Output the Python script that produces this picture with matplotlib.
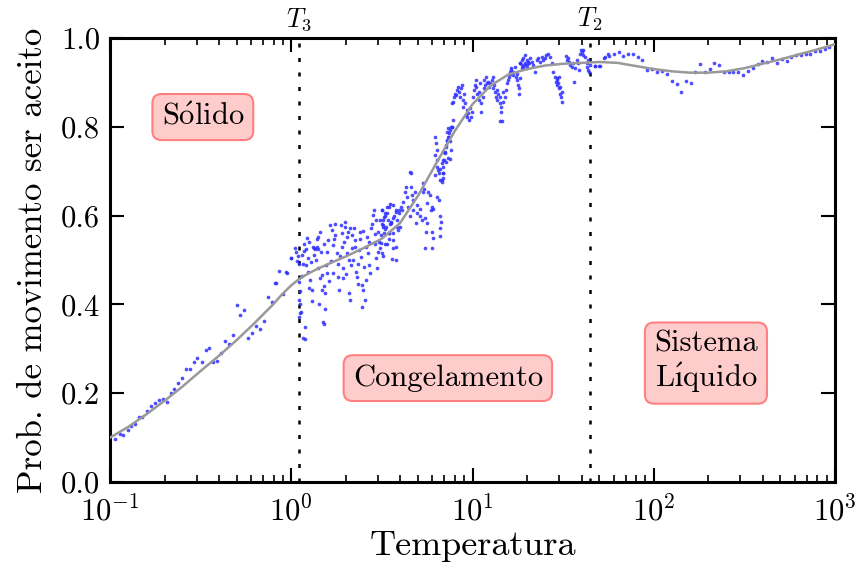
import numpy as np
import matplotlib
matplotlib.use('Agg')
import matplotlib.pyplot as plt

# fonts (Computer Modern look)
plt.rcParams['font.family'] = 'serif'
plt.rcParams['font.serif'] = ['cmr10']
plt.rcParams['mathtext.fontset'] = 'cm'
plt.rcParams['axes.formatter.use_mathtext'] = True

# fitted curve (grey line)
curve_temp = [0.1, 0.126, 0.158, 0.2, 0.251, 0.316, 0.398, 0.501, 0.631, 0.794,
              0.891, 1.0, 1.12, 1.26, 1.41, 1.58, 2.0, 2.51, 3.16, 3.98, 5.01, 6.31, 7.94,
              10, 12.6, 15.8, 20, 25.1, 31.6, 39.8, 50.1, 63.1, 79.4,
              100, 126, 158, 200, 251, 316, 398, 501, 631, 794, 1000]
curve_prob = [0.100, 0.124, 0.152, 0.183, 0.215, 0.250, 0.284, 0.320, 0.359, 0.400,
              0.423, 0.443, 0.459, 0.471, 0.481, 0.490, 0.508, 0.527, 0.548, 0.583, 0.645, 0.718, 0.789,
              0.851, 0.893, 0.918, 0.930, 0.938, 0.942, 0.944, 0.946, 0.944, 0.937,
              0.930, 0.925, 0.922, 0.922, 0.925, 0.932, 0.942, 0.952, 0.963, 0.974, 0.986]

# simulation points (blue dots)
# solid region, T < 1
temp_solid = [0.107, 0.114, 0.118, 0.125, 0.131, 0.137, 0.145, 0.151, 0.159, 0.168,
              0.177, 0.186, 0.195, 0.206, 0.216, 0.226, 0.238, 0.249, 0.262, 0.276,
              0.290, 0.303, 0.321, 0.337, 0.353, 0.372, 0.389, 0.410, 0.430, 0.452,
              0.475, 0.500, 0.524, 0.549, 0.580, 0.610, 0.638, 0.672, 0.705, 0.741,
              0.780, 0.820, 0.860, 0.904, 0.950, 0.81, 1.0]
prob_solid = [0.096, 0.107, 0.106, 0.116, 0.126, 0.130, 0.146, 0.147, 0.161, 0.172,
              0.179, 0.184, 0.188, 0.181, 0.200, 0.209, 0.223, 0.234, 0.254, 0.254,
              0.270, 0.280, 0.270, 0.297, 0.301, 0.270, 0.272, 0.290, 0.318, 0.310,
              0.330, 0.398, 0.377, 0.387, 0.325, 0.335, 0.352, 0.345, 0.363, 0.416,
              0.406, 0.448, 0.475, 0.424, 0.471, 0.449, 0.504]

# freezing region, 1 < T < 4
temp_freeze = [0.94, 1.00, 1.05, 1.09, 1.10, 1.11, 1.12, 1.10, 1.12, 1.13,
               1.10, 1.19, 1.19, 1.16, 1.15, 1.18, 1.22, 1.21, 1.20, 1.24,
               1.25, 1.30, 1.30, 1.27, 1.29, 1.32, 1.34, 1.36, 1.38, 1.41,
               1.41, 1.44, 1.37, 1.41, 1.44, 1.47, 1.48, 1.51, 1.53, 1.49,
               1.51, 1.53, 1.43, 1.56, 1.57, 1.60, 1.63, 1.67, 1.70, 1.74,
               1.75, 1.78, 1.80, 1.82, 1.84, 1.87, 1.90, 1.90, 1.92, 1.94,
               1.98, 1.98, 2.03, 2.03, 2.07, 2.09, 2.11, 2.11, 2.15, 2.17,
               2.19, 2.22, 2.24, 2.27, 2.30, 2.32, 2.36, 2.38, 2.42, 2.45,
               2.45, 2.50, 2.52, 2.55, 2.57, 2.60, 2.62, 2.66, 2.70, 2.75,
               2.78, 2.82, 2.85, 2.90, 2.92, 2.96, 3.00, 3.02, 3.06, 3.10,
               3.14, 3.16, 3.21, 3.25, 3.29, 3.30, 3.36, 3.40, 3.44, 3.50,
               3.55, 3.58, 3.62, 3.70, 3.78, 3.85, 3.95, 4.05, 3.50, 3.18,
               2.95, 1.16, 1.12,
               1.06, 1.08, 1.14, 1.17, 1.23, 1.26, 1.33, 1.39, 1.46, 1.52,
               1.58, 1.65, 1.72, 1.86, 1.96, 2.05, 2.13, 2.26, 2.40, 2.48,
               2.68, 2.88, 3.08, 3.27, 3.48, 1.62, 1.69, 2.00, 2.34, 2.72]
prob_freeze = [0.474, 0.504, 0.526, 0.510, 0.490, 0.450, 0.430, 0.410, 0.400, 0.383,
               0.372, 0.350, 0.321, 0.490, 0.463, 0.520, 0.550, 0.524, 0.489, 0.474,
               0.436, 0.432, 0.408, 0.455, 0.496, 0.530, 0.526, 0.524, 0.530, 0.524,
               0.552, 0.564, 0.500, 0.481, 0.459, 0.466, 0.432, 0.441, 0.425, 0.361,
               0.356, 0.389, 0.402, 0.489, 0.519, 0.545, 0.579, 0.567, 0.534, 0.582,
               0.556, 0.515, 0.492, 0.462, 0.432, 0.579, 0.560, 0.530, 0.481, 0.459,
               0.586, 0.575, 0.552, 0.515, 0.500, 0.425, 0.410, 0.571, 0.556, 0.526,
               0.500, 0.571, 0.545, 0.474, 0.462, 0.447, 0.522, 0.564, 0.507, 0.444,
               0.395, 0.432, 0.485, 0.410, 0.455, 0.530, 0.552, 0.515, 0.489, 0.571,
               0.582, 0.601, 0.612, 0.537, 0.504, 0.481, 0.519, 0.564, 0.541, 0.590,
               0.556, 0.612, 0.579, 0.597, 0.605, 0.537, 0.620, 0.590, 0.560, 0.627,
               0.586, 0.502, 0.526, 0.600, 0.612, 0.575, 0.605, 0.620, 0.582, 0.580,
               0.590, 0.324, 0.380,
               0.517, 0.498, 0.512, 0.537, 0.505, 0.541, 0.512, 0.547, 0.519, 0.536,
               0.470, 0.498, 0.548, 0.510, 0.540, 0.564, 0.488, 0.530, 0.548, 0.566,
               0.540, 0.558, 0.528, 0.570, 0.548, 0.452, 0.470, 0.468, 0.492, 0.470]

# steep rise, 3 < T < 10
temp_rise = [3.15, 3.22, 3.31, 3.36, 3.45, 3.54, 3.63, 3.66, 3.76, 3.81,
             3.88, 3.93, 3.98, 3.20, 3.25, 3.34, 3.45, 3.63, 3.66, 3.76,
             3.12, 3.15, 3.22, 3.76, 3.36,
             4.07, 4.16, 4.24, 4.30, 4.33, 4.42, 4.52, 4.56, 4.62, 4.72,
             4.72, 4.82, 4.93, 4.97, 5.10, 5.13, 5.25, 5.31, 5.36, 5.41,
             5.58, 5.70, 5.83, 5.88, 5.96, 6.08, 4.56, 4.52, 4.88, 5.47,
             5.54, 5.58, 5.96, 6.03, 5.47, 5.96, 6.35, 6.57, 6.62, 6.68,
             6.62, 6.62,
             6.21, 6.29, 6.35, 6.21, 6.35, 6.40, 6.48, 6.57, 6.62, 6.76,
             6.90, 6.90, 7.05, 7.13, 7.21, 7.36, 7.46, 7.52, 7.58, 7.68,
             7.52, 7.36, 7.13, 6.90, 6.76, 6.84, 6.62, 6.21]
prob_rise = [0.613, 0.590, 0.598, 0.605, 0.620, 0.583, 0.594, 0.624, 0.609, 0.590,
             0.568, 0.613, 0.575, 0.575, 0.560, 0.575, 0.560, 0.560, 0.545, 0.530,
             0.538, 0.515, 0.508, 0.500, 0.537,
             0.613, 0.631, 0.654, 0.665, 0.643, 0.620, 0.598, 0.665, 0.646, 0.635,
             0.613, 0.654, 0.624, 0.605, 0.616, 0.598, 0.590, 0.654, 0.673, 0.661,
             0.628, 0.654, 0.646, 0.613, 0.620, 0.616, 0.695, 0.699, 0.583, 0.594,
             0.564, 0.583, 0.564, 0.549, 0.526, 0.526, 0.643, 0.635, 0.598, 0.586,
             0.571, 0.553,
             0.778, 0.763, 0.748, 0.737, 0.725, 0.710, 0.703, 0.695, 0.706, 0.718,
             0.725, 0.744, 0.740, 0.759, 0.767, 0.778, 0.785, 0.793, 0.799, 0.800,
             0.727, 0.729, 0.721, 0.684, 0.676, 0.695, 0.680, 0.691]

# approach to plateau, 7 < T < 20
temp_upper = [6.76, 6.84, 6.90, 6.96, 7.05, 7.14, 7.20, 7.26, 7.36, 7.45,
              7.51, 7.58, 7.68, 7.78, 7.68, 7.83, 7.90, 8.00, 8.11, 8.18,
              8.35, 8.46, 8.53, 8.60, 8.71, 8.83, 8.90, 8.98, 9.09, 9.21,
              9.29, 9.37, 9.48, 9.61, 9.69, 9.77, 9.89, 10.1, 10.2, 10.3,
              10.45, 10.5, 10.6, 10.8, 10.9, 11.0, 11.1, 11.2, 11.4, 11.5,
              11.6, 11.7, 11.9, 12.0, 12.2, 12.4, 12.5, 12.8, 12.9, 13.0,
              13.1, 13.3, 13.5, 13.6, 13.7, 13.9, 14.1, 14.2, 14.3, 14.4,
              14.5, 14.2, 14.7, 14.8, 15.1, 15.3, 15.5, 15.6, 15.8, 16.0,
              16.1, 16.3, 16.4, 16.7, 16.8, 17.1, 17.4, 17.5, 17.7, 17.8,
              18.0, 18.1, 18.3, 18.7, 19.1, 19.5, 19.9, 20.3, 19.9]
prob_upper = [0.680, 0.695, 0.710, 0.725, 0.744, 0.755, 0.770, 0.789, 0.797, 0.778,
              0.767, 0.748, 0.800, 0.815, 0.853, 0.857, 0.868, 0.875, 0.872, 0.883,
              0.890, 0.879, 0.868, 0.887, 0.894, 0.860, 0.845, 0.875, 0.853, 0.827,
              0.838, 0.823, 0.830, 0.815, 0.842, 0.823, 0.834, 0.868, 0.883, 0.894,
              0.905, 0.890, 0.875, 0.860, 0.879, 0.898, 0.853, 0.834, 0.868, 0.887,
              0.905, 0.894, 0.913, 0.898, 0.902, 0.890, 0.898, 0.905, 0.887, 0.913,
              0.894, 0.879, 0.868, 0.883, 0.860, 0.875, 0.853, 0.868, 0.845, 0.834,
              0.812, 0.812, 0.879, 0.857, 0.868, 0.883, 0.898, 0.905, 0.913, 0.920,
              0.924, 0.932, 0.928, 0.917, 0.924, 0.935, 0.913, 0.920, 0.905, 0.894,
              0.875, 0.887, 0.943, 0.939, 0.935, 0.943, 0.939, 0.947, 0.932]

# plateau, 18 < T < 56
temp_plateau = [18.3, 18.7, 19.1, 19.5, 19.9, 20.4, 20.8, 21.2, 21.7, 22.2,
                22.6, 23.1, 23.6, 24.1, 24.6, 25.1, 25.6, 26.2, 26.8, 27.3,
                18.3, 19.5, 18.7,
                27.9, 28.5, 28.8, 29.1, 29.4, 29.7, 30.1, 30.4, 30.7, 31.1,
                31.1, 30.4, 29.4, 30.1,
                32.6, 33.1, 33.8, 34.2, 34.5, 35.3, 36.0, 36.4, 36.8, 37.6,
                38.4, 38.8, 39.2, 39.6, 40.1, 40.5, 40.9, 41.8, 42.7, 43.1,
                43.6, 44.1, 43.6, 44.5]
prob_plateau = [0.943, 0.950, 0.954, 0.962, 0.950, 0.943, 0.954, 0.947, 0.939, 0.924,
                0.950, 0.954, 0.947, 0.958, 0.950, 0.954, 0.962, 0.965, 0.958, 0.943,
                0.909, 0.939, 0.932,
                0.924, 0.913, 0.902, 0.905, 0.894, 0.898, 0.887, 0.875, 0.868, 0.879,
                0.857, 0.890, 0.909, 0.913,
                0.959, 0.950, 0.954, 0.947, 0.939, 0.935, 0.943, 0.902, 0.932, 0.950,
                0.943, 0.928, 0.965, 0.973, 0.969, 0.962, 0.973, 0.958, 0.943, 0.935,
                0.928, 0.924, 0.950, 0.939]

# liquid region, T > 45
temp_liquid = [47.5, 50.5, 53.8, 56.2,
               47.4, 50.1, 53.4, 56.6, 60.4, 64.1, 68.0, 72.4, 77.1, 81.5,
               86.5, 92.2, 98.2, 104, 111, 118, 126, 134, 141, 151,
               160, 169, 181, 192, 204, 216, 230, 244, 259, 275,
               293, 312, 331, 351, 374, 397, 424, 449, 479, 508,
               541, 574, 609, 647, 689, 731, 780, 826, 881, 930]
prob_liquid = [0.937, 0.937, 0.958, 0.965,
               0.937, 0.937, 0.954, 0.959, 0.964, 0.969, 0.959, 0.963, 0.964, 0.958,
               0.950, 0.928, 0.930, 0.923, 0.926, 0.920, 0.903, 0.896, 0.878, 0.903,
               0.899, 0.923, 0.941, 0.923, 0.930, 0.944, 0.939, 0.923, 0.924, 0.923,
               0.923, 0.917, 0.926, 0.932, 0.941, 0.949, 0.945, 0.954, 0.943, 0.953,
               0.948, 0.957, 0.961, 0.961, 0.964, 0.963, 0.970, 0.971, 0.976, 0.979]

# transition temperatures
t3 = 1.1
t2 = 44.5

temps = temp_solid + temp_freeze + temp_rise + temp_upper + temp_plateau + temp_liquid
probs = prob_solid + prob_freeze + prob_rise + prob_upper + prob_plateau + prob_liquid

fig = plt.figure(figsize=(8.57, 5.70), dpi=100)
ax = fig.add_axes([0.1284, 0.1544, 0.8459, 0.7789])

ax.scatter(temps, probs, s=7, color='#3030ff', alpha=0.85, linewidths=0, zorder=2)
ax.plot(curve_temp, curve_prob, color='#999999', lw=1.8, zorder=3)

for t in (t3, t2):
    ax.axvline(t, color='k', lw=1.8, linestyle=(0, (1.6, 4.2)), zorder=1)

ax.set_xscale('log')
ax.set_xlim(0.1, 1000)
ax.set_ylim(0, 1)
ax.set_yticks([0, 0.2, 0.4, 0.6, 0.8, 1.0])
ax.set_yticklabels(['0.0', '0.2', '0.4', '0.6', '0.8', '1.0'])

for s in ax.spines.values():
    s.set_linewidth(2.2)
ax.tick_params(which='both', direction='in', top=True, right=True, labelsize=22)
ax.tick_params(axis='x', which='both', pad=10)
ax.tick_params(axis='y', which='both', pad=7)
ax.tick_params(which='major', length=10, width=1.5)
ax.tick_params(which='minor', length=5, width=1.2)

ax.set_xlabel('Temperatura', fontsize=26, labelpad=2)
ax.set_ylabel('Prob. de movimento ser aceito', fontsize=25, labelpad=9)

# transition labels above the frame
ax.text(t3, 1.012, r'$T_3$', fontsize=19, ha='center', va='bottom',
        transform=ax.get_xaxis_transform())
ax.text(t2, 1.012, r'$T_2$', fontsize=19, ha='center', va='bottom',
        transform=ax.get_xaxis_transform())

box = dict(boxstyle='round,pad=0.3', facecolor='#ffcccc', edgecolor='#ff8080', lw=1.5)
ax.text(0.128, 0.822, r'S$\mathrm{\acute{o}}$lido', fontsize=22, ha='center', va='center',
        transform=ax.transAxes, bbox=box)
ax.text(0.466, 0.234, 'Congelamento', fontsize=22, ha='center', va='center',
        transform=ax.transAxes, bbox=box)
ax.text(0.822, 0.27, 'Sistema\nL$\\mathrm{\\acute{\\i}}$quido', fontsize=22, ha='center',
        va='center', transform=ax.transAxes, bbox=box, linespacing=1.1)

plt.savefig('out.png', dpi=100)
